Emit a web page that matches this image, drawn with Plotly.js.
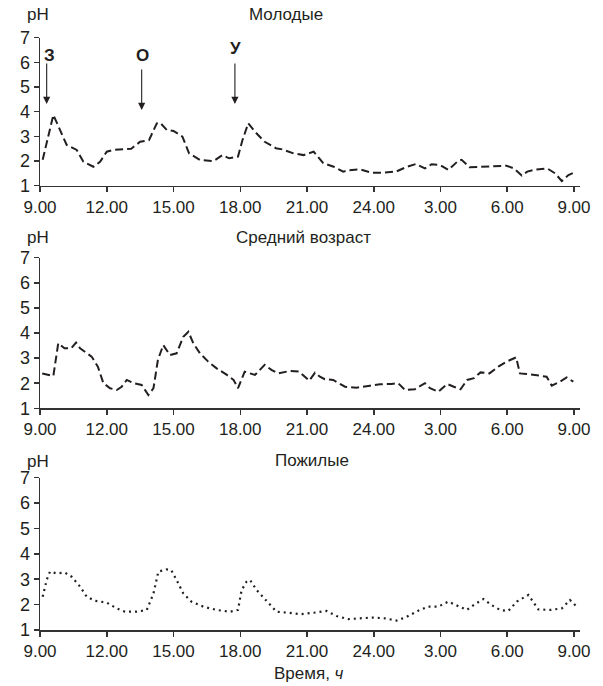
<!DOCTYPE html>
<html>
<head>
<meta charset="utf-8">
<script src="https://cdn.plot.ly/plotly-3.0.1.min.js"></script>
<style>html,body{margin:0;padding:0;background:#fff;}#chart{width:603px;height:686px;}</style>
</head>
<body>
<div id="chart"></div>
<script>
// Hours elapsed since 9.00
const tickHours = [0, 3, 6, 9, 12, 15, 18, 21, 24];
const tickLabels = ['9.00', '12.00', '15.00', '18.00', '21.00', '24.00', '3.00', '6.00', '9.00'];

const youngHours = [0.12,0.6,1.2,1.65,1.95,2.4,2.7,3.0,3.3,4.1,4.5,4.9,5.25,5.4,5.7,6.0,6.4,6.7,7.2,7.8,8.2,8.5,8.9,9.1,9.36,9.66,10.1,10.6,10.9,11.4,11.85,12.3,12.73,13.2,13.63,13.9,14.38,14.9,15.4,16.0,16.5,16.9,17.3,17.6,17.98,18.35,18.8,18.95,19.3,19.8,20.4,20.97,21.3,21.65,21.9,22.3,22.8,23.15,23.45,23.75,24.1];
const youngPH = [2.05,3.87,2.65,2.45,1.97,1.77,1.97,2.38,2.45,2.5,2.78,2.85,3.53,3.55,3.26,3.22,2.99,2.31,2.04,2.0,2.24,2.11,2.18,2.85,3.53,3.19,2.78,2.52,2.47,2.31,2.24,2.38,1.91,1.77,1.57,1.63,1.66,1.53,1.53,1.57,1.77,1.88,1.7,1.87,1.84,1.64,2.01,2.05,1.75,1.77,1.81,1.81,1.7,1.41,1.57,1.66,1.7,1.5,1.19,1.43,1.57];

const middleHours = [0.1,0.6,0.82,1.1,1.4,1.62,1.8,2.1,2.32,2.6,2.85,3.15,3.45,3.67,3.9,4.2,4.57,4.87,5.1,5.3,5.54,5.84,6.14,6.44,6.67,6.89,7.19,7.56,7.94,8.4,8.7,8.9,9.2,9.44,9.66,10.1,10.4,10.7,11.25,11.65,12.1,12.36,12.58,12.8,13.18,13.71,14.23,14.83,15.28,15.8,16.1,16.4,16.85,17.3,17.53,17.9,18.3,18.6,18.9,19.2,19.5,19.8,20.2,20.6,20.97,21.4,21.57,21.87,22.4,22.77,23.0,23.37,23.67,23.97];
const middlePH = [2.39,2.29,3.59,3.39,3.39,3.62,3.39,3.19,3.06,2.66,2.0,1.8,1.73,1.86,2.13,2.0,1.93,1.53,1.8,2.93,3.52,3.12,3.19,3.85,4.05,3.59,3.19,2.86,2.59,2.33,2.13,1.8,2.46,2.39,2.33,2.73,2.53,2.39,2.49,2.46,2.1,2.42,2.26,2.16,2.13,1.86,1.82,1.9,1.96,1.97,2.0,1.73,1.76,2.0,1.8,1.66,1.97,1.86,1.76,2.13,2.2,2.43,2.39,2.66,2.86,3.03,2.39,2.37,2.29,2.26,1.9,2.06,2.23,2.06];

const elderlyHours = [0.12,0.3,0.45,0.75,1.12,1.42,1.8,2.1,2.47,3.0,3.45,3.82,4.34,4.8,5.1,5.32,5.69,5.9,6.14,6.44,6.8,7.34,7.94,8.54,8.9,9.06,9.28,9.44,9.74,10.2,10.63,11.16,11.69,12.3,12.88,13.33,13.86,14.38,14.98,15.5,16.03,16.48,17.0,17.45,17.9,18.35,18.73,19.18,19.55,19.93,20.3,20.68,21.05,21.43,21.95,22.4,22.93,23.45,23.82,24.12];
const elderlyPH = [2.31,2.97,3.3,3.23,3.26,3.1,2.71,2.31,2.15,2.08,1.85,1.72,1.72,1.79,2.44,3.3,3.39,3.36,2.97,2.44,2.12,1.92,1.79,1.72,1.79,2.57,2.9,2.97,2.57,2.12,1.72,1.68,1.62,1.68,1.75,1.55,1.43,1.46,1.49,1.46,1.37,1.52,1.76,1.92,1.92,2.12,1.98,1.79,2.02,2.22,1.98,1.79,1.75,2.12,2.38,1.81,1.79,1.85,2.18,1.92];

const panelTitles = ['Молодые', 'Средний возраст', 'Пожилые'];
const markerLetters = ['З', 'О', 'У'];
const markerHours = [0.3, 4.57, 8.76];
const xTitle = 'Время, <i>ч</i>';

const FONT = 'Liberation Sans, Arial, sans-serif';
const ink = '#231f20';

const lineCommon = {type: 'scatter', mode: 'lines', hoverinfo: 'skip', showlegend: false};
const data = [
  Object.assign({}, lineCommon, {x: youngHours, y: youngPH, xaxis: 'x', yaxis: 'y',
    line: {color: ink, width: 2, dash: '8px,4px'}}),
  Object.assign({}, lineCommon, {x: middleHours, y: middlePH, xaxis: 'x2', yaxis: 'y2',
    line: {color: ink, width: 2, dash: '8px,4px'}}),
  Object.assign({}, lineCommon, {x: elderlyHours, y: elderlyPH, xaxis: 'x3', yaxis: 'y3',
    line: {color: ink, width: 2.2, dash: '2px,4px'}})
];

function xAx(anchor) {
  return {
    anchor: anchor, domain: [0, 1], range: [0, 24.27],
    tickvals: tickHours, ticktext: tickLabels,
    showline: true, linecolor: '#333', linewidth: 1.5,
    ticks: 'outside', ticklen: 5, tickcolor: '#333', tickwidth: 1.5,
    showgrid: false, zeroline: false, fixedrange: true,
    tickfont: {family: FONT, size: 17, color: ink}
  };
}
function yAx(anchor, dom) {
  return {
    anchor: anchor, domain: dom, range: [1, 7], dtick: 1, tick0: 1,
    showline: true, linecolor: '#333', linewidth: 1.5,
    ticks: 'outside', ticklen: 5, tickcolor: '#333', tickwidth: 1.5,
    showgrid: false, zeroline: false, fixedrange: true,
    tickfont: {family: FONT, size: 18, color: ink}
  };
}

const H = 686, L = 40, W = 540;
const px = v => (v - L) / W;
const py = v => 1 - v / H;

const annotations = [];
function txt(t, x, y, size, bold) {
  annotations.push({text: bold ? '<b>' + t + '</b>' : t, xref: 'paper', yref: 'paper',
    x: px(x), y: py(y), xanchor: 'center', yanchor: 'middle', showarrow: false,
    font: {family: FONT, size: size, color: ink}});
}
// pH labels and panel titles
txt('pH', 38, 15, 17); txt(panelTitles[0], 286, 15, 17);
txt('pH', 38, 237, 17); txt(panelTitles[1], 303, 237, 17);
txt('pH', 38, 461, 17); txt(panelTitles[2], 312, 460, 17);
txt(xTitle, 309, 673, 17);

// arrows with letters (panel 1)
const letterY = [56, 56, 48];
const tailY = [62, 68, 62];
const headY = [104, 110, 104];
const yTop = 37.7, yBot = 185.7;
for (let i = 0; i < markerLetters.length; i++) {
  const xPix = L + markerHours[i] * W / 24.27;
  txt(markerLetters[i], xPix + (i === 0 ? 3 : 1), letterY[i], 17, true);
  const headVal = 1 + (yBot - headY[i]) / ((yBot - yTop) / 6);
  annotations.push({x: markerHours[i], y: headVal, xref: 'x', yref: 'y',
    ax: 0, ay: tailY[i] - headY[i], axref: 'pixel', ayref: 'pixel',
    showarrow: true, arrowhead: 2, arrowsize: 1.3, arrowwidth: 1.1,
    arrowcolor: ink, text: ''});
}

const layout = {
  width: 603, height: 686,
  margin: {l: L, r: 603 - L - W, t: 0, b: 0},
  paper_bgcolor: '#fff', plot_bgcolor: '#fff',
  font: {family: FONT, color: ink},
  showlegend: false,
  xaxis: xAx('y'), yaxis: yAx('x', [py(185.7), py(37.7)]),
  xaxis2: xAx('y2'), yaxis2: yAx('x2', [py(408.3), py(257.7)]),
  xaxis3: xAx('y3'), yaxis3: yAx('x3', [py(630), py(477.7)]),
  annotations: annotations
};

Plotly.newPlot('chart', data, layout, {displayModeBar: false, staticPlot: true});
</script>
</body>
</html>
